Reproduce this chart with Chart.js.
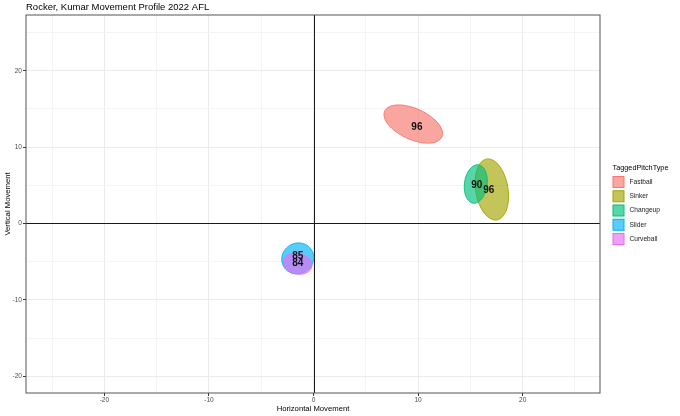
<!DOCTYPE html>
<html>
<head>
<meta charset="utf-8">
<script src="https://cdn.jsdelivr.net/npm/chart.js@4.4.0/dist/chart.umd.min.js"></script>
<style>
  html, body { margin: 0; padding: 0; background: #fff; }
  #wrap { width: 680px; height: 416px; }
</style>
</head>
<body>
<div id="wrap"><canvas id="chart" width="680" height="416"></canvas></div>
<script>
// Pitch types (order = draw order)
const pitchTypes = ["Fastball", "Sinker", "Changeup", "Slider", "Curveball"];
const pitchColors = ["#F8766D", "#A3A500", "#00BF7D", "#00B0F6", "#E76BF3"];
// average velocity shown in the middle of each ellipse
const avgVelo = [96, 96, 90, 85, 84];

// ellipse centre (inches)
const horzMov = [9.54, 17.05, 15.52, -1.51, -1.51];
const vertMov = [13.02, 4.45, 5.17, -4.58, -5.27];
// half width / half height of each ellipse, and its tilt (correlation)
const horzSpread = [2.8, 1.6, 1.1, 1.53, 1.36];
const vertSpread = [2.5, 4.0, 2.52, 2.03, 1.37];
const spreadCorr = [-0.5, -0.22, 0.15, 0.05, -0.15];

// where the velocity label sits
const labelX = [9.89, 16.77, 15.62, -1.51, -1.51];
const labelY = [12.54, 4.32, 4.97, -4.35, -5.21];

// axis ticks
const xTicks = [-20, -10, 0, 10, 20];
const yTicks = [-20, -10, 0, 10, 20];

const FONT = "'Liberation Sans', Arial, sans-serif";

function withAlpha(hex, a) {
  const n = parseInt(hex.slice(1), 16);
  return `rgba(${(n >> 16) & 255}, ${(n >> 8) & 255}, ${n & 255}, ${a})`;
}

// major grid a bit stronger than the minor one
function gridColor(ctx, ticks) {
  const v = ctx.tick ? ctx.tick.value : null;
  return ticks.includes(v) ? "#EBEBEB" : "#F4F4F4";
}

function tickMarkColor(ctx, ticks) {
  const v = ctx.tick ? ctx.tick.value : null;
  return ticks.includes(v) ? "#333333" : "rgba(0,0,0,0)";
}

// zero lines, ellipses, labels, panel border and legend
const ellipsePlugin = {
  id: "pitchEllipses",
  beforeDatasetsDraw(chart) {
    const { ctx, chartArea: a, scales: { x, y } } = chart;
    ctx.save();
    ctx.strokeStyle = "#1a1a1a";
    ctx.lineWidth = 1;
    const x0 = Math.round(x.getPixelForValue(0)) + 0.5;
    const y0 = Math.round(y.getPixelForValue(0)) + 0.5;
    ctx.beginPath();
    ctx.moveTo(x0, a.top); ctx.lineTo(x0, a.bottom);
    ctx.moveTo(a.left, y0); ctx.lineTo(a.right, y0);
    ctx.stroke();
    ctx.restore();
  },
  afterDatasetsDraw(chart) {
    const { ctx, scales: { x, y } } = chart;
    ctx.save();
    pitchTypes.forEach((p, i) => {
      const r = spreadCorr[i];
      ctx.beginPath();
      for (let k = 0; k <= 120; k++) {
        const t = (k / 120) * Math.PI * 2;
        const dx = horzSpread[i] * Math.cos(t);
        const dy = vertSpread[i] * (r * Math.cos(t) + Math.sqrt(1 - r * r) * Math.sin(t));
        const px = x.getPixelForValue(horzMov[i] + dx);
        const py = y.getPixelForValue(vertMov[i] + dy);
        if (k === 0) ctx.moveTo(px, py); else ctx.lineTo(px, py);
      }
      ctx.closePath();
      ctx.fillStyle = withAlpha(pitchColors[i], 0.65);
      ctx.fill();
      ctx.lineWidth = 1;
      ctx.strokeStyle = pitchColors[i];
      ctx.stroke();
    });

    ctx.fillStyle = "#111111";
    ctx.font = "bold 10px " + FONT;
    ctx.textAlign = "center";
    ctx.textBaseline = "middle";
    avgVelo.forEach((v, i) => {
      ctx.fillText(String(v), x.getPixelForValue(labelX[i]), y.getPixelForValue(labelY[i]));
    });
    ctx.restore();
  },
  afterDraw(chart) {
    const { ctx, chartArea: a } = chart;
    ctx.save();
    ctx.strokeStyle = "#555555";
    ctx.lineWidth = 1;
    ctx.strokeRect(a.left, a.top, a.right - a.left, a.bottom - a.top);

    // legend
    const lx = 612.5, ty = 168, top = 176, step = 14.25, box = 12;
    ctx.fillStyle = "#000000";
    ctx.font = "7.3px " + FONT;
    ctx.textAlign = "left";
    ctx.textBaseline = "middle";
    ctx.fillText("TaggedPitchType", lx, ty);
    ctx.font = "6.6px " + FONT;
    pitchTypes.forEach((p, i) => {
      const by = top + i * step;
      ctx.fillStyle = withAlpha(pitchColors[i], 0.65);
      ctx.fillRect(lx + 0.5, by + 0.5, box - 1, box - 1);
      ctx.strokeStyle = pitchColors[i];
      ctx.lineWidth = 1;
      ctx.strokeRect(lx + 0.5, by + 0.5, box - 1, box - 1);
      ctx.fillStyle = "#1a1a1a";
      ctx.fillText(p, lx + box + 5, by + box / 2);
    });
    ctx.restore();
  }
};

const ctx = document.getElementById("chart").getContext("2d");
new Chart(ctx, {
  type: "scatter",
  data: {
    datasets: pitchTypes.map((p, i) => ({
      label: p,
      data: [{ x: horzMov[i], y: vertMov[i] }],
      pointRadius: 0,
      backgroundColor: withAlpha(pitchColors[i], 0.65),
      borderColor: pitchColors[i]
    }))
  },
  options: {
    responsive: false,
    animation: false,
    layout: { padding: { left: 0, right: 80, top: 0, bottom: 0 } },
    plugins: {
      legend: { display: false },
      tooltip: { enabled: false },
      title: {
        display: true,
        text: "Rocker, Kumar Movement Profile 2022 AFL",
        align: "start",
        fullSize: false,
        color: "#000000",
        font: { family: FONT, size: 9.5, weight: "normal", lineHeight: 1.2 },
        padding: { top: 1.8, bottom: 1.8 }
      }
    },
    scales: {
      x: {
        type: "linear",
        min: -27.5,
        max: 27.4,
        afterFit(scale) { scale.height = 23; },
        ticks: {
          stepSize: 5,
          includeBounds: false,
          autoSkip: false,
          maxRotation: 0,
          padding: 0,
          color: "#4D4D4D",
          font: { family: FONT, size: 6.6 },
          callback: (v) => (xTicks.includes(v) ? String(v) : "")
        },
        grid: {
          color: (c) => gridColor(c, xTicks),
          tickColor: (c) => tickMarkColor(c, xTicks),
          tickLength: 3,
          lineWidth: 1
        },
        border: { display: false },
        title: {
          display: true,
          text: "Horizontal Movement",
          color: "#000000",
          font: { family: FONT, size: 7.7, lineHeight: 1.2 },
          padding: { top: 0, bottom: 2.1 }
        }
      },
      y: {
        type: "linear",
        min: -22.2,
        max: 27.3,
        afterFit(scale) { scale.width = 26; },
        ticks: {
          stepSize: 5,
          includeBounds: false,
          autoSkip: false,
          padding: 1,
          color: "#4D4D4D",
          font: { family: FONT, size: 6.6 },
          callback: (v) => (yTicks.includes(v) ? String(v) : "")
        },
        grid: {
          color: (c) => gridColor(c, yTicks),
          tickColor: (c) => tickMarkColor(c, yTicks),
          tickLength: 3,
          lineWidth: 1
        },
        border: { display: false },
        title: {
          display: true,
          text: "Vertical Movement",
          color: "#000000",
          font: { family: FONT, size: 7.7, lineHeight: 1.2 },
          padding: { top: 3.4, bottom: 0 }
        }
      }
    }
  },
  plugins: [ellipsePlugin]
});
</script>
</body>
</html>
